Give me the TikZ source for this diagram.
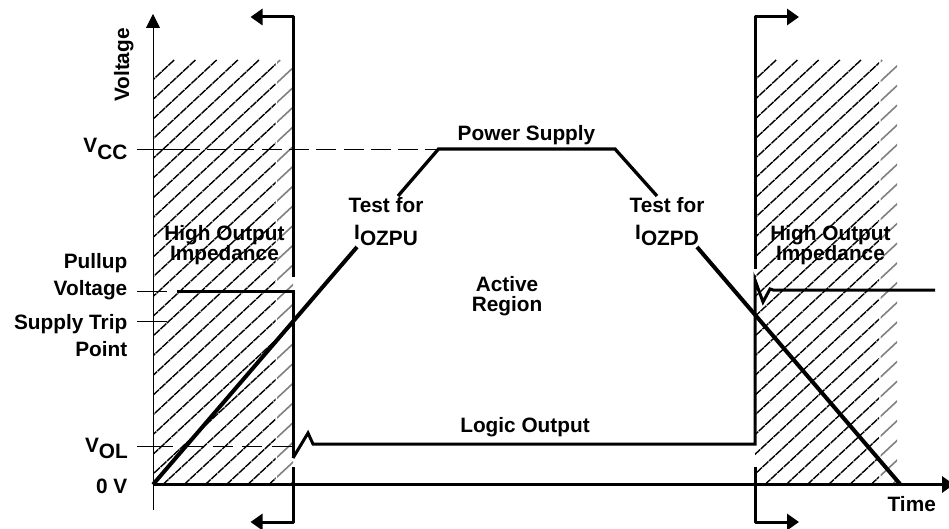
\documentclass[tikz,border=0pt]{standalone}
\usepackage{fontspec}
\setmainfont{Liberation Sans}
\usetikzlibrary{arrows.meta}
\tikzset{
 x=1pt,y=-1pt,
 lab/.style={font=\fontsize{20.8}{20}\selectfont\bfseries,align=center,inner sep=0pt,text=black},
 thin line/.style={line width=0.9pt},
 thick line/.style={line width=3pt},
 ramp/.style={line width=4pt},
 upramp/.style={line width=3.3pt},
 hatch/.style={line width=1.4pt,black,dash pattern=on 8pt off 0.8pt},
 hatchgray/.style={line width=1.6pt,black!50},
 dashline/.style={line width=0.9pt,dash pattern=on 20pt off 7.3pt},
 tip/.style={-{Triangle[length=12pt,width=16pt]}},
}
\newcommand{\Sub}[2]{#1\raisebox{-6.5pt}{#2}}
\begin{document}
\begin{tikzpicture}
\useasboundingbox (0,0) rectangle (949,529);
\clip (0,0) rectangle (949,529);
% hatching
\foreach \xa/\xb/\xc in {153/275.5/293,755/879/897}{
 \begin{scope}
  \clip (\xa,60) rectangle (\xb,484);
  \foreach \k in {0,...,40} \draw[hatch] ({\xa+\k*21.2},60) -- ++(-600,558);
 \end{scope}
 \begin{scope}
  \clip (\xb+1.5,60) rectangle (\xc,484);
  \foreach \k in {0,...,40} \draw[hatchgray] ({\xa+\k*21.2},60) -- ++(-600,558);
 \end{scope}
}
% axes
\coordinate (o) at (153,484.5);
\coordinate (yb) at (153,510);
\coordinate (yt) at (153,14);
\coordinate (xe) at (954,484.5);
\draw[thin line,-{Triangle[length=14pt,width=14pt]}] (yb) -- (yt);
\draw[thick line,tip] (o) -- (xe);
% ticks
\draw[thin line] (137,149) -- (200,149);
\draw[dashline] (207,149) -- (446,149);
\draw[thin line] (137,446) -- (173,446);
\draw[dashline,dash pattern=on 20pt off 9.5pt] (183,446) -- (295,446);
\draw[thin line] (137,291) -- (167,291);
\draw[thin line] (137,321) -- (167,321);
% boundaries
\draw[thick line,tip,line join=round] (293,277) -- (293,17) -- (250.5,17);
\draw[thick line] (293,290) -- (293,458);
\draw[thick line,tip,line join=round] (293,467) -- (293,522) -- (250.5,522);
\draw[thick line,tip,line join=round] (755,269) -- (755,17) -- (799,17);
\draw[thick line,tip,line join=round] (755,467) -- (755,522) -- (799,522);
% outputs
\draw[thick line] (177,291.5) -- (293,291.5);
\draw[thick line,line join=miter] (293,458) -- (308,433) -- (313,444) -- (755,444) -- (755,280) -- (763,302) -- (770,289) -- (773,290) -- (935,290);
% supply
\draw[ramp] (o) -- (357,247);
\draw[upramp,line join=miter] (398,196) -- (438.5,149) -- (615,149) -- (657,196);
\draw[ramp] (697,247) -- (900,484);
% labels
\node[lab,rotate=90,anchor=base] (volt) at (129,65) {Voltage};
\node[lab,anchor=base east] (vcc) at (127.5,153) {\Sub{V}{CC}};
\node[lab,anchor=base east] (pu) at (127.5,268) {Pullup};
\node[lab,anchor=base east] (pv) at (127.5,295) {Voltage};
\node[lab,anchor=base east] (st) at (127.5,329) {Supply Trip};
\node[lab,anchor=base east] (sp) at (127.5,356) {Point};
\node[lab,anchor=base east] (vol) at (128,452) {\Sub{V}{OL}};
\node[lab,anchor=base east] (zero) at (127.5,493) {0 V};
\node[lab,anchor=base] (ps) at (526.5,141) {Power Supply};
\node[lab,anchor=base] (lo) at (525,432) {Logic Output};
\node[lab] (ar) at (507,296) {Active\\Region};
\node[lab] (h1) at (224.5,245.5) {High Output\\Impedance};
\node[lab] (h2) at (830.5,245.5) {High Output\\Impedance};
\node[lab,anchor=base] (t1) at (386,213) {Test for};
\node[lab,anchor=base] (i1) at (386,239) {\Sub{I}{OZPU}};
\node[lab,anchor=base] (t2) at (667,213) {Test for};
\node[lab,anchor=base] (i2) at (667,239) {\Sub{I}{OZPD}};
\node[lab,anchor=base east] (tm) at (936,511) {Time};
\end{tikzpicture}
\end{document}
